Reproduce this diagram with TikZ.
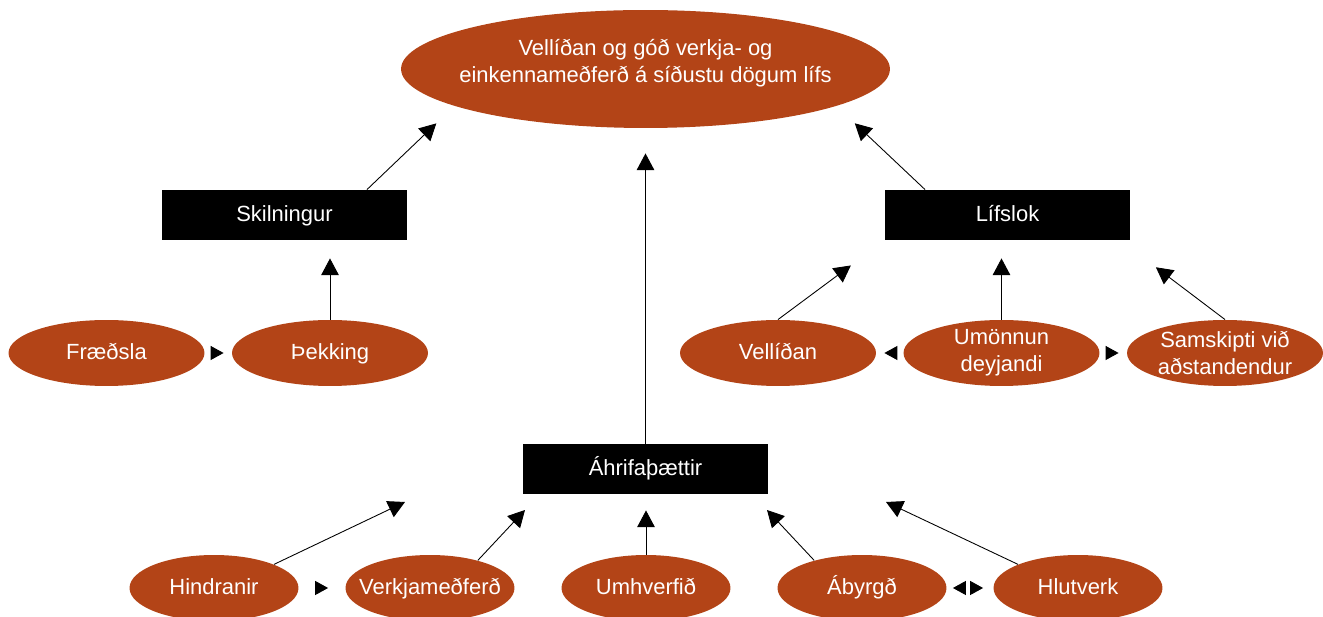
\documentclass[tikz,border=0pt]{standalone}
\usepackage{fontspec}
\setmainfont{Liberation Sans}
\usepackage{tikz}
\usetikzlibrary{arrows.meta,shapes.geometric}
\usepackage{xcolor}

\tikzset{
  bigtip/.tip={Triangle[width=10pt,length=9.5pt]},
  hoptip/.tip={Triangle[color=black,width=8pt,length=7.4pt]}
}

\begin{document}
\begin{tikzpicture}[x=0.02cm,y=-0.02cm,line width=0.5pt,
  font=\fontsize{12.5}{15.5}\selectfont,
  word/.style={text height=9.5pt,text depth=2.5pt},
  bubble/.style={ellipse,fill=rust,text=white,inner sep=-0.5cm,align=center,
    minimum width=3.92cm,minimum height=1.32cm},
  lowbubble/.style={bubble,word,minimum width=3.38cm},
  bar/.style={fill=black,text=white,word,minimum width=4.9cm,minimum height=1cm},
  uparr/.style={-{bigtip},shorten >=0.36cm},
  hop/.style={white,-{hoptip},shorten >=0.16cm}]
\definecolor{rust}{RGB}{179,68,23}
\useasboundingbox (0,0) rectangle (1323,617);

% goal and the three boxes
\node[bubble,minimum width=9.78cm,minimum height=2.36cm,text depth=9pt] (goal) at (645.5,69)
  {Vellíðan og góð verkja- og\\einkennameðferð á síðustu dögum lífs};
\node[bar] (skil) at (284.5,215) {Skilningur};
\node[bar] (lifs) at (1007.5,215) {Lífslok};
\node[bar] (ahrif) at (645.5,469) {Áhrifaþættir};

% middle row
\node[bubble,word] (fraed) at (106.5,353) {Fræðsla};
\node[bubble,word] (thekk) at (330,353) {Þekking};
\node[bubble,word] (vell) at (778,353) {Vellíðan};
\node[bubble] (umon) at (1001.5,353) {Umönnun\\deyjandi};
\node[bubble] (samsk) at (1225,353) {Samskipti við\\aðstandendur};

% bottom row
\node[lowbubble] (hind) at (214,588) {Hindranir};
\node[lowbubble] (verk) at (430,588) {Verkjameðferð};
\node[lowbubble] (umhv) at (646,588) {Umhverfið};
\node[lowbubble] (abyr) at (862,588) {Ábyrgð};
\node[lowbubble] (hlut) at (1078,588) {Hlutverk};

% arrows up to the goal
\draw[uparr,shorten >=0.5cm] ([xshift=1.65cm]skil.north) -- (goal.191);
\draw[uparr,shorten >=0.5cm] ([xshift=-1.65cm]lifs.north) -- (goal.-11);
\draw[uparr,shorten >=0.5cm] (ahrif) -- (goal);

% arrows up to Skilningur and Lifslok
\draw[uparr] (thekk) -- (thekk |- skil.south);
\draw[uparr,shorten >=0.84cm] (vell.north) -- (lifs.south west);
\draw[uparr] (umon) -- (umon |- lifs.south);
\draw[uparr,shorten >=0.89cm] (samsk.north) -- ([xshift=-0.2cm]lifs.south east);

% arrows up to Ahrifathaettir
\coordinate (tipH) at (405,502);
\coordinate (tipV) at (525,510);
\coordinate (tipA) at (767,510);
\coordinate (tipL) at (886,502);
\draw[uparr,shorten >=0pt] (hind.north east) -- (tipH);
\draw[uparr,shorten >=0pt] (verk.30) -- (tipV);
\draw[uparr,shorten >=0.32cm] (umhv) -- (umhv |- ahrif.south);
\draw[uparr,shorten >=0pt] (abyr.150) -- (tipA);
\draw[uparr,shorten >=0pt] (hlut.north west) -- (tipL);

% side arrows in the rows
\draw[hop] (fraed) -- (thekk);
\draw[hop] (umon) -- (vell);
\draw[hop] (umon) -- (samsk);
\draw[hop,shorten >=0.34cm] (hind) -- (verk);
\draw[hop,{hoptip}-{hoptip},shorten <=0.12cm,shorten >=0.2cm] (abyr) -- (hlut);
\end{tikzpicture}
\end{document}
